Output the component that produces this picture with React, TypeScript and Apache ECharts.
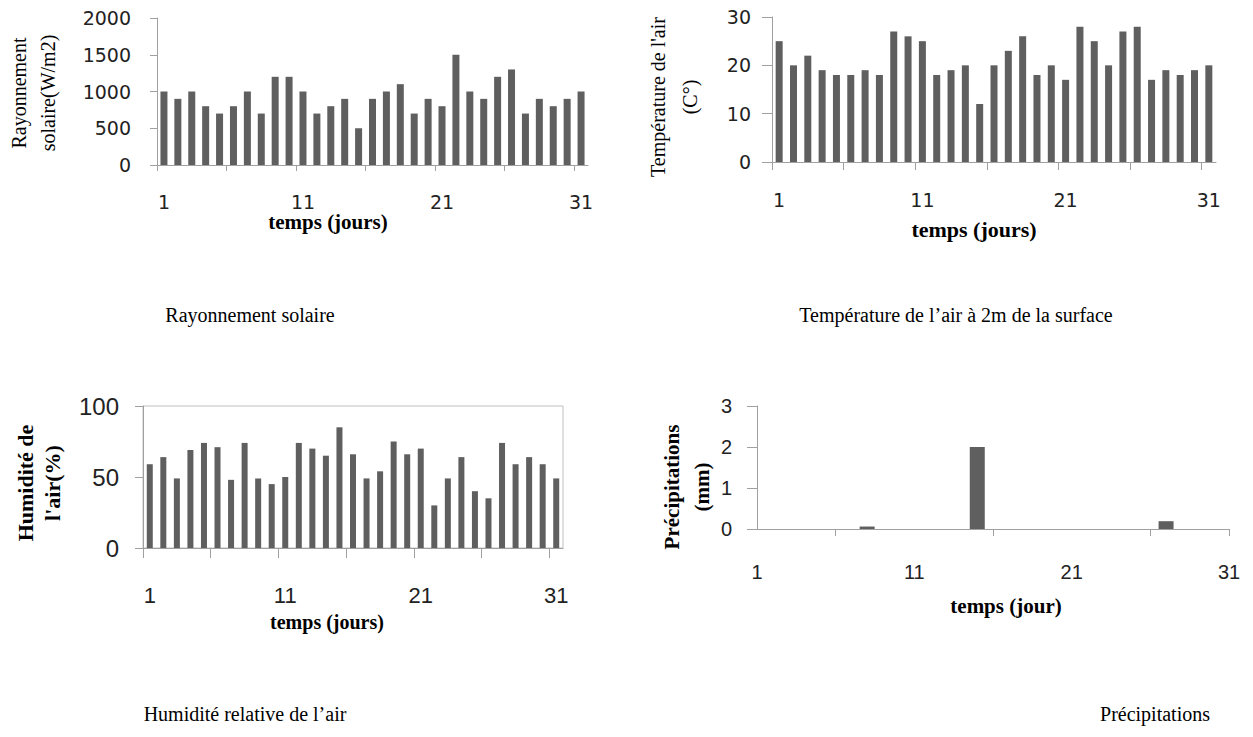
import React, { useEffect, useRef } from 'react';
import * as echarts from 'echarts';

// ---- data ----
const days = [1, 2, 3, 4, 5, 6, 7, 8, 9, 10, 11, 12, 13, 14, 15, 16, 17, 18, 19, 20, 21, 22, 23, 24, 25, 26, 27, 28, 29, 30, 31];
const solar = [1000, 900, 1000, 800, 700, 800, 1000, 700, 1200, 1200, 1000, 700, 800, 900, 500, 900, 1000, 1100, 700, 900, 800, 1500, 1000, 900, 1200, 1300, 700, 900, 800, 900, 1000];
const temperature = [25, 20, 22, 19, 18, 18, 19, 18, 27, 26, 25, 18, 19, 20, 12, 20, 23, 26, 18, 20, 17, 28, 25, 20, 27, 28, 17, 19, 18, 19, 20];
const humidity = [59, 64, 49, 69, 74, 71, 48, 74, 49, 45, 50, 74, 70, 65, 85, 66, 49, 54, 75, 66, 70, 30, 49, 64, 40, 35, 74, 59, 64, 59, 49];
const precipitation = [0, 0, 0, 0, 0, 0, 0, 0.06, 0, 0, 0, 0, 0, 0, 2, 0, 0, 0, 0, 0, 0, 0, 0, 0, 0, 0, 0.19, 0, 0, 0, 0];
const xTickLabels = [1, 11, 21, 31];
const bandTicks = [0.5, 5.5, 10.5, 15.5, 20.5, 25.5, 30.5];
const precipTicks = [6, 16, 26, 31];

const AXIS = '#a0a0a0';
const BAR = '#5f5f5f';
const LABEL = '#222';
const SERIF = "'Liberation Serif', 'Times New Roman', serif";
const plain = (v: number) => String(v);

function bandX(gridIndex: number, fontSize: number, fontFamily: string, margin: number, tickLen: number) {
  return {
    type: 'value', gridIndex, min: 0.5, max: 31.5,
    axisLine: { show: true, onZero: false, lineStyle: { color: AXIS, width: 1 } },
    axisTick: { show: true, length: tickLen, customValues: bandTicks, lineStyle: { color: AXIS } },
    axisLabel: { customValues: xTickLabels, fontSize, fontFamily, color: LABEL, margin, formatter: plain },
    splitLine: { show: false },
  };
}

function yAx(gridIndex: number, max: number, interval: number, fontSize: number, fontFamily: string, margin: number, tickLen: number) {
  return {
    type: 'value', gridIndex, min: 0, max, interval,
    axisLine: { show: true, onZero: false, lineStyle: { color: AXIS, width: 1 } },
    axisTick: { show: true, length: tickLen, lineStyle: { color: AXIS } },
    axisLabel: { fontSize, fontFamily, color: LABEL, margin, formatter: plain },
    splitLine: { show: false },
  };
}

function txt(text: string, x: number, y: number, size: number, bold: boolean, rotate: boolean) {
  return {
    type: 'text', x, y, rotation: rotate ? Math.PI / 2 : 0, silent: true,
    style: {
      text, fill: '#000', fontSize: size, fontFamily: SERIF, fontWeight: bold ? 'bold' : 'normal',
      align: 'center', verticalAlign: 'middle', textAlign: 'center', textVerticalAlign: 'middle',
    },
  };
}

export default function App() {
  const ref = useRef<HTMLDivElement>(null);
  useEffect(() => {
    if (!ref.current) return;
    const chart = echarts.init(ref.current, undefined, { renderer: 'svg' });
    const pair = (vals: number[]) => vals.map((v, k) => [days[k], v]);
    chart.setOption({
      animation: false,
      backgroundColor: '#fff',
      grid: [
        { left: 157, top: 18, width: 431, height: 147 },
        { left: 772, top: 17, width: 444, height: 145 },
        { left: 143, top: 406, width: 420, height: 142, show: true, borderColor: '#c0c0c0', borderWidth: 1 },
        { left: 757, top: 406, width: 472, height: 123 },
      ],
      xAxis: [
        bandX(0, 19, "'DejaVu Sans', sans-serif", 27, 6),
        bandX(1, 19, "'DejaVu Sans', sans-serif", 28, 8),
        bandX(2, 22, "'Liberation Sans', sans-serif", 36, 10),
        {
          type: 'value', gridIndex: 3, min: 1, max: 31,
          axisLine: { show: true, onZero: false, lineStyle: { color: AXIS, width: 1 } },
          axisTick: { show: true, length: 7, customValues: precipTicks, lineStyle: { color: AXIS } },
          axisLabel: { customValues: xTickLabels, fontSize: 20, fontFamily: "'Liberation Sans', sans-serif", color: LABEL, margin: 33, formatter: plain },
          splitLine: { show: false },
        },
      ],
      yAxis: [
        yAx(0, 2000, 500, 19, "'DejaVu Sans', sans-serif", 26, 7),
        yAx(1, 30, 10, 19, "'DejaVu Sans', sans-serif", 21, 10),
        yAx(2, 100, 50, 24, "'Liberation Sans', sans-serif", 24, 8),
        yAx(3, 3, 1, 20, "'Liberation Sans', sans-serif", 25, 10),
      ],
      series: [
        { type: 'bar', xAxisIndex: 0, yAxisIndex: 0, data: pair(solar), barWidth: 7, itemStyle: { color: BAR } },
        { type: 'bar', xAxisIndex: 1, yAxisIndex: 1, data: pair(temperature), barWidth: 7, itemStyle: { color: BAR } },
        { type: 'bar', xAxisIndex: 2, yAxisIndex: 2, data: pair(humidity), barWidth: 6, itemStyle: { color: BAR } },
        { type: 'bar', xAxisIndex: 3, yAxisIndex: 3, data: pair(precipitation), barWidth: 15, itemStyle: { color: BAR } },
      ],
      graphic: [
        txt('Rayonnement', 19, 93, 20, false, true),
        txt('solaire(W/m2)', 48, 93, 20, false, true),
        txt("Température de l'air", 658, 97, 20, false, true),
        txt('(C°)', 690, 97, 20, false, true),
        txt('Humidité de', 25, 483, 22, true, true),
        txt("l'air(%)", 52, 483, 22, true, true),
        txt('Précipitations', 672, 487, 21, true, true),
        txt('(mm)', 702, 487, 21, true, true),
        txt('temps (jours)', 328, 222, 21, true, false),
        txt('temps (jours)', 974, 229, 22, true, false),
        txt('temps (jours)', 327, 622, 20, true, false),
        txt('temps (jour)', 1006, 606, 21, true, false),
        txt('Rayonnement solaire', 250, 315, 20, false, false),
        txt('Température de l’air à 2m de la surface', 956, 315, 20, false, false),
        txt('Humidité relative de l’air', 245, 714, 20, false, false),
        txt('Précipitations', 1155, 714, 20, false, false),
      ],
    });
    return () => chart.dispose();
  }, []);
  return <div ref={ref} style={{ position: 'fixed', left: 0, top: 0, width: 1253, height: 737 }} />;
}
